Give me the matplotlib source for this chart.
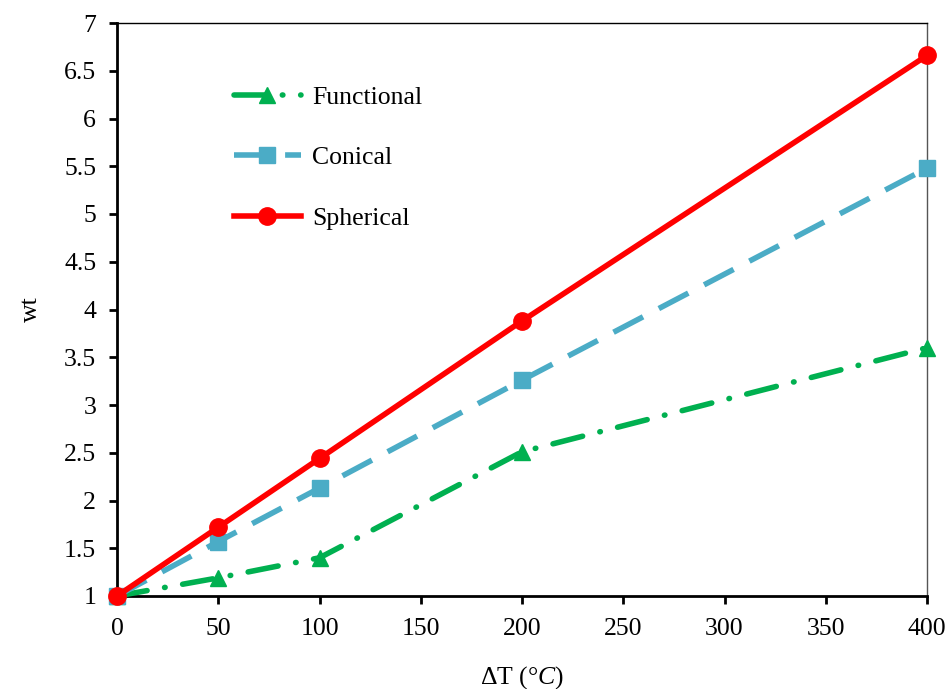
import matplotlib
matplotlib.use("Agg")
import matplotlib.pyplot as plt

plt.rcParams['font.family'] = ['Liberation Serif', 'DejaVu Serif']
plt.rcParams['mathtext.fontset'] = 'custom'
plt.rcParams['mathtext.it'] = 'Liberation Serif:italic'
plt.rcParams['mathtext.rm'] = 'Liberation Serif'

delta_t = [0, 50, 100, 200, 400]
functional = [1.0, 1.19, 1.40, 2.51, 3.60]
conical = [1.0, 1.57, 2.13, 3.26, 5.48]
spherical = [1.0, 1.72, 2.44, 3.88, 6.66]

x_ticks = [0, 50, 100, 150, 200, 250, 300, 350, 400]
y_ticks = [1, 1.5, 2, 2.5, 3, 3.5, 4, 4.5, 5, 5.5, 6, 6.5, 7]
y_tick_labels = ['1', '1.5', '2', '2.5', '3', '3.5', '4', '4.5', '5', '5.5', '6', '6.5', '7']

fig = plt.figure(figsize=(9.51, 6.89), dpi=100)
ax = fig.add_axes([117/951, 1-596/689, (927-117)/951, (596-23)/689])

green = '#00B050'
blue = '#4BACC6'
red = '#FF0000'

ax.plot(delta_t, functional, color=green, lw=4, dashes=(5.5, 3.2, 0.1, 3.2),
        dash_capstyle='round', marker='^', markersize=12, label='Functional',
        clip_on=False, zorder=3)
ax.plot(delta_t, conical, color=blue, lw=4, dashes=(6, 3.2),
        marker='s', markersize=11.5, label='Conical', clip_on=False, zorder=4)
ax.plot(delta_t, spherical, color=red, lw=4, marker='o', markersize=12.5,
        label='Spherical', clip_on=False, zorder=5)

ax.set_xlim(0, 400)
ax.set_ylim(1, 7)
ax.set_xticks(x_ticks)
ax.set_yticks(y_ticks)
ax.set_yticklabels(y_tick_labels)
ax.tick_params(axis='both', direction='out', length=6, width=2, labelsize=18.5,
               colors='black')
ax.tick_params(axis='x', pad=10)
ax.tick_params(axis='y', pad=9)

for s in ['left', 'bottom']:
    ax.spines[s].set_linewidth(2)
    ax.spines[s].set_color('black')
ax.spines['top'].set_linewidth(1)
ax.spines['top'].set_color('black')
ax.spines['right'].set_linewidth(1)
ax.spines['right'].set_color('#555555')

ax.set_xlabel('ΔT (°$C$)', fontsize=18.5, labelpad=17)
ax.set_ylabel('wt', fontsize=18.5, labelpad=16)

leg = ax.legend(loc='upper left', bbox_to_anchor=(0.116, 0.93), frameon=False,
                fontsize=18.5, handlelength=2.6, handletextpad=0.45,
                labelspacing=1.45)

fig.savefig('out.png', dpi=100)
